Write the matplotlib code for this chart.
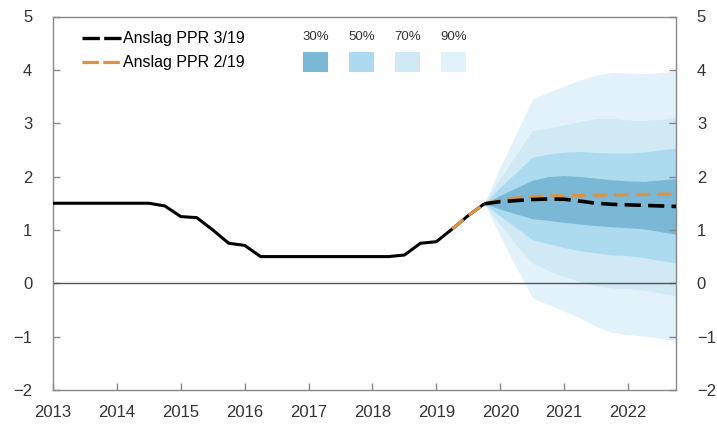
import matplotlib
matplotlib.use("Agg")
import matplotlib.pyplot as plt
from matplotlib.lines import Line2D
from matplotlib.patches import Rectangle
import numpy as np

plt.rcParams['font.family'] = ['Liberation Sans', 'DejaVu Sans']

# ---------------- data ----------------
hist_x = [2013.0, 2013.25, 2013.5, 2013.75, 2014.0, 2014.25, 2014.5, 2014.75,
          2015.0, 2015.25, 2015.5, 2015.75, 2016.0, 2016.25, 2016.5, 2016.75,
          2017.0, 2017.25, 2017.5, 2017.75, 2018.0, 2018.25, 2018.5, 2018.75,
          2019.0, 2019.25, 2019.5, 2019.75]
hist_y = [1.5, 1.5, 1.5, 1.5, 1.5, 1.5, 1.5, 1.45,
          1.25, 1.23, 1.0, 0.75, 0.71, 0.5, 0.5, 0.5,
          0.5, 0.5, 0.5, 0.5, 0.5, 0.5, 0.53, 0.75,
          0.78, 1.02, 1.27, 1.49]

proj_x = [2019.75, 2020.0, 2020.25, 2020.5, 2020.75, 2021.0, 2021.25,
          2021.5, 2021.75, 2022.0, 2022.25, 2022.5, 2022.75]
ppr319 = [1.49, 1.53, 1.55, 1.57, 1.58, 1.575, 1.54,
          1.50, 1.48, 1.47, 1.46, 1.45, 1.44]

ppr219_x = [2019.25, 2019.5, 2019.75, 2020.0, 2020.25, 2020.5, 2020.75, 2021.0,
            2021.25, 2021.5, 2021.75, 2022.0, 2022.25, 2022.5, 2022.75]
ppr219 = [1.02, 1.27, 1.49, 1.56, 1.60, 1.625, 1.635, 1.64,
          1.645, 1.65, 1.655, 1.66, 1.665, 1.67, 1.67]

upper90 = [1.49, 2.18, 2.81, 3.45, 3.58, 3.70, 3.81, 3.90, 3.95, 3.94, 3.93, 3.95, 3.98]
upper70 = [1.49, 1.97, 2.41, 2.86, 2.91, 2.97, 3.03, 3.09, 3.09, 3.06, 3.05, 3.07, 3.11]
upper50 = [1.49, 1.80, 2.08, 2.36, 2.42, 2.46, 2.47, 2.45, 2.44, 2.44, 2.46, 2.50, 2.53]
upper30 = [1.49, 1.65, 1.79, 1.93, 2.00, 2.02, 2.00, 1.97, 1.94, 1.92, 1.91, 1.94, 1.96]
lower30 = [1.49, 1.39, 1.30, 1.21, 1.18, 1.14, 1.11, 1.08, 1.06, 1.04, 1.02, 0.97, 0.92]
lower50 = [1.49, 1.26, 1.04, 0.82, 0.74, 0.67, 0.61, 0.57, 0.53, 0.52, 0.48, 0.43, 0.38]
lower70 = [1.49, 1.09, 0.72, 0.38, 0.24, 0.13, 0.03, -0.05, -0.09, -0.10, -0.13, -0.18, -0.23]
lower90 = [1.49, 0.88, 0.30, -0.27, -0.40, -0.52, -0.65, -0.81, -0.92, -0.96, -0.99, -1.03, -1.09]

band_labels = ['30%', '50%', '70%', '90%']
band_colors = ['#7bb8d5', '#acdaef', '#d1e8f5', '#e2f2fb']

year_ticks = list(range(2013, 2023))
y_ticks = [-2, -1, 0, 1, 2, 3, 4, 5]

# ---------------- figure ----------------
fig = plt.figure(figsize=(7.17, 4.25), dpi=100)
ax = fig.add_axes([53/717, 1-390/425, 623/717, 373.5/425])

bands = [(lower90, upper90), (lower70, upper70), (lower50, upper50), (lower30, upper30)]
for (lo, hi), col in zip(bands, band_colors[::-1]):
    ax.fill_between(proj_x, lo, hi, color=col, linewidth=0, zorder=1)

ax.axhline(0, color='#555555', linewidth=1.0, zorder=2)

ax.plot(hist_x, hist_y, color='black', linewidth=2.2, zorder=3, solid_capstyle='butt')
ax.plot(ppr219_x, ppr219, color='#dc9444', linewidth=2.3, linestyle=(0, (4.5, 2.2)), zorder=4)
ax.plot(proj_x, ppr319, color='black', linewidth=2.6, linestyle=(0, (4.5, 2.0)), zorder=5)

ax.set_xlim(2013.0, 2022.75)
ax.set_ylim(-2, 5)
ax.set_xticks(year_ticks)
ax.set_xticklabels([str(y) for y in year_ticks])
ax.set_yticks(y_ticks)

for s in ax.spines.values():
    s.set_color('#888888')
    s.set_linewidth(1.0)

ax.tick_params(axis='x', direction='in', length=5, width=1, color='#888888',
               labelsize=12, labelcolor='#333333', pad=11)
ax.tick_params(axis='y', direction='in', length=5, width=1, color='#888888',
               labelsize=12, labelcolor='#333333', left=True, right=True,
               labelleft=True, labelright=True, pad=15)

# legend for lines
handles = [Line2D([], [], color='black', linewidth=2.4, linestyle=(0, (5.2, 1.3))),
           Line2D([], [], color='#dc9444', linewidth=2.3, linestyle=(0, (5.2, 1.3)))]
ax.legend(handles, ['Anslag PPR 3/19', 'Anslag PPR 2/19'], loc='upper left',
          bbox_to_anchor=(0.029, 0.99), frameon=False, fontsize=11.5,
          handlelength=2.45, handletextpad=0.08, labelspacing=0.55, borderaxespad=0.3)

# legend for fan bands
bx0, bw, bstep = 0.401, 0.041, 0.0738
for i, (lab, col) in enumerate(zip(band_labels, band_colors)):
    x0 = bx0 + i * bstep
    ax.add_patch(Rectangle((x0, 0.852), bw, 0.054, transform=ax.transAxes,
                           facecolor=col, edgecolor='none', zorder=6))
    ax.text(x0 + bw / 2, 0.946, lab, transform=ax.transAxes, ha='center', va='center',
            fontsize=9.5, color='#333333')

fig.savefig('out.png', dpi=100)
